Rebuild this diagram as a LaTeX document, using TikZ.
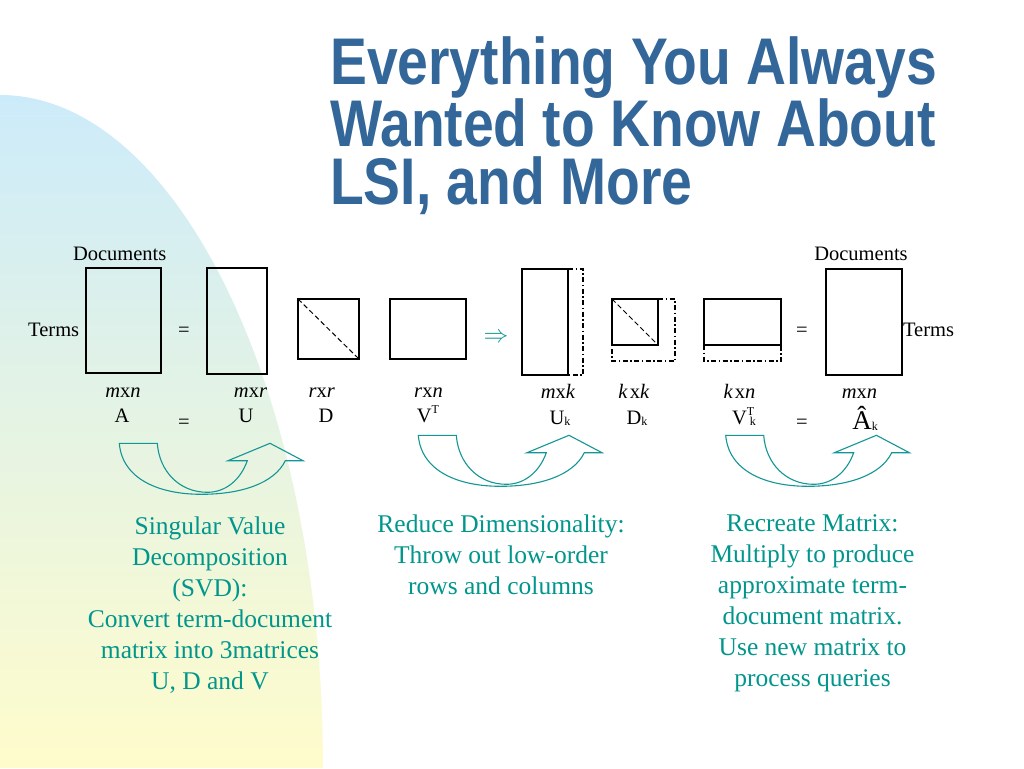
\documentclass[tikz,border=0pt]{standalone}
\usepackage{fontspec}
\setmainfont{Liberation Serif}
\newfontfamily\titlefont{Liberation Sans}[FakeStretch=0.837]
\definecolor{titleblue}{RGB}{51,102,153}
\definecolor{tealc}{RGB}{20,150,150}
\definecolor{tealtext}{RGB}{0,150,140}
\definecolor{bgblue}{RGB}{204,235,250}
\definecolor{bgyellow}{RGB}{255,252,204}
\newcommand{\mysubk}{\raisebox{-0.15ex}{\fontsize{12}{12}\selectfont k}}
\newcommand{\mysupT}{\raisebox{0.95ex}{\fontsize{12}{12}\selectfont T}}
\tikzset{
  mat/.style={draw, line width=1.4pt, inner sep=0pt, outer sep=0pt},
  lbl/.style={font=\fontsize{20.5}{24}\selectfont, inner sep=0pt, anchor=base},
  ext/.style={line width=1.2pt, dash pattern=on 5pt off 2.5pt on 1.5pt off 2.5pt},
  desc/.style={font=\fontsize{25.5}{31}\selectfont, text=tealtext, align=center, inner sep=0pt, anchor=north},
  ttl/.style={font=\fontsize{66}{57.4}\selectfont\titlefont\bfseries, text=titleblue, inner sep=0pt, anchor=north west, align=left},
  arr/.style={draw=tealc, line width=1.1pt, line join=miter},
  cuparrow/.pic={
    \draw[arr] (0,0) -- (38,0)
      .. controls (40,28) and (60,49) .. (88,49)
      .. controls (106,49) and (121,37) .. (128,17.4)
      -- (108.7,17.4) -- (150.7,0) -- (183.7,17.4) -- (166,17.4)
      .. controls (155,40) and (122,51) .. (82,51)
      .. controls (40,51) and (3,36) .. (0,0) -- cycle;
  }
}
\begin{document}
\begin{tikzpicture}[x=1pt,y=-1pt]
\useasboundingbox (0,0) rectangle (1024,768);
\fill[white] (0,0) rectangle (1024,768);
% background quarter ellipse
\shade[top color=bgblue, bottom color=bgyellow]
  (0,768) -- (0,95) arc[start angle=90, end angle=0, x radius=323pt, y radius=673pt] -- cycle;

% title
\node[ttl] (title) at (330,36) {Everything You Always\\Wanted to Know About\\LSI, and More};

% matrices
\node[mat, minimum width=75, minimum height=105] (A) at (123.5,320.5) {};
\node[mat, minimum width=60, minimum height=106] (U) at (237,321) {};
\node[mat, minimum width=61, minimum height=60] (D) at (328.5,329) {};
\node[mat, minimum width=76, minimum height=60] (VT) at (428,329) {};
\node[mat, minimum width=46, minimum height=106] (Uk) at (545,322) {};
\node[mat, minimum width=46, minimum height=46] (Dk) at (635,322) {};
\node[mat, minimum width=77, minimum height=46] (VTk) at (742.5,322) {};
\node[mat, minimum width=76, minimum height=106] (Ahat) at (864,322) {};

\draw[line width=1pt, dash pattern=on 5pt off 3pt] (D.north west) -- (D.south east);
\draw[line width=1pt, dash pattern=on 5pt off 3pt] (Dk.north west) -- (Dk.south east);

\draw[ext] (Uk.north east) -- ++(15,0) |- (Uk.south east);
\draw[ext] (Dk.north east) -- ++(17,0) |- ([yshift=-16pt]Dk.south west) -- (Dk.south west);
\draw[ext] (VTk.south west) -- ([yshift=-16pt]VTk.south west) -| (VTk.south east);

% labels
\node[lbl] (docL) at (119.7,260) {Documents};
\node[lbl] (docR) at (861,260) {Documents};
\node[lbl] (termL) at (53.7,336.7) {Terms};
\node[lbl] (termR) at (928.5,336.7) {Terms};

\node[lbl] (eq1) at (184,336.5) {=};
\node[lbl] (eq2) at (184,428) {=};
\node[lbl] (eq3) at (802,336.5) {=};
\node[lbl] (eq4) at (802,428) {=};

\node[lbl] (dA) at (123,397) {\textit{m}x\textit{n}};
\node[lbl] (dU) at (250.5,397) {\textit{m}x\textit{r}};
\node[lbl] (dD) at (321.7,397) {\textit{r}x\textit{r}};
\node[lbl] (dV) at (428.5,397) {\textit{r}x\textit{n}};
\node[lbl] (dUk) at (558,398) {\textit{m}x\textit{k}};
\node[lbl] (dDk) at (634,398) {\textit{k}\kern2pt x\textit{k}};
\node[lbl] (dVk) at (739.5,398) {\textit{k}\kern2pt x\textit{n}};
\node[lbl] (dAh) at (859.5,398) {\textit{m}x\textit{n}};

\node[lbl] (nA) at (122,422.5) {A};
\node[lbl] (nU) at (246,422.5) {U};
\node[lbl] (nD) at (326,422.5) {D};
\node[lbl] (nV) at (428,422.5) {V\mysupT};
\node[lbl] (nUk) at (560,424) {U\mysubk};
\node[lbl] (nDk) at (637,424) {D\mysubk};
\node[lbl] (nVk) at (744,424) {V\rlap{\mysupT}\kern3pt\mysubk};
\node[lbl, font=\fontsize{27}{30}\selectfont] (nAh) at (865,429) {Â\mysubk};

% implication arrow
\node[inner sep=0pt, text=tealc, font=\fontsize{36}{36}\selectfont] (impl) at (496,338) {$\Rightarrow$};

% curved arrows
\pic at (119.3,443.3) {cuparrow};
\pic at (418.3,435.3) {cuparrow};
\pic at (725.7,435.3) {cuparrow};

% descriptions
\node[desc] (svd) at (210,516.5) {Singular Value\\Decomposition\\(SVD):\\Convert term-document\\matrix into 3matrices\\U, D and V};
\node[desc] (red) at (501,514.5) {Reduce Dimensionality:\\Throw out low-order\\rows and columns};
\node[desc] (rec) at (812.5,514.5) {Recreate Matrix:\\Multiply to produce\\approximate term-\\document matrix.\\Use new matrix to\\process queries};
\end{tikzpicture}
\end{document}
